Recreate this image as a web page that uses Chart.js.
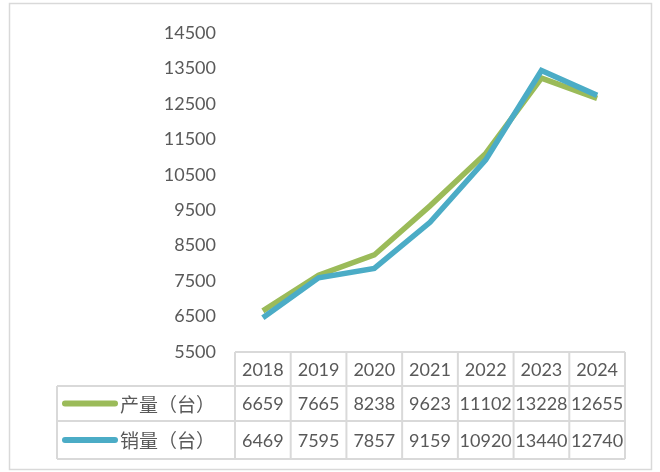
<!DOCTYPE html>
<html>
<head>
<meta charset="utf-8">
<script src="https://cdn.jsdelivr.net/npm/chart.js@4.4.1/dist/chart.umd.min.js"></script>
<style>
    html, body { margin: 0; padding: 0; background: #fff; }
    #wrap { width: 660px; height: 472px; position: relative; }
</style>
</head>
<body>
<div id="wrap"><canvas id="lineChart" width="660" height="472"></canvas></div>
<script>
// 数据
const years = ['2018', '2019', '2020', '2021', '2022', '2023', '2024'];
const seriesNames = ['产量（台）', '销量（台）'];
const production = [6659, 7665, 8238, 9623, 11102, 13228, 12655];
const sales = [6469, 7595, 7857, 9159, 10920, 13440, 12740];
const yMin = 5500;
const yMax = 14500;
const yStep = 1000;

const GREEN = '#9BBB59';
const BLUE = '#4BACC6';
const GRID = '#D9D9D9';
const TEXT = '#595959';
const NUM_FONT = '18px Lato';
const CJK_FONT = '19px "Noto Sans CJK SC"';

/**
 * 画表格（数据表）和外框
 */
const dataTablePlugin = {
    id: 'dataTable',
    afterDraw(chart) {
        const ctx = chart.ctx;
        const x = chart.scales.x;
        const half = (x.getPixelForValue(1) - x.getPixelForValue(0)) / 2;
        const left = x.getPixelForValue(0) - half;
        const right = x.getPixelForValue(years.length - 1) + half;
        const legendLeft = 57;
        const rows = [352, 386, 421, 459];

        ctx.save();
        ctx.strokeStyle = GRID;
        ctx.lineWidth = 2;
        ctx.beginPath();
        // 横线
        ctx.moveTo(left, rows[0]); ctx.lineTo(right, rows[0]);
        for (let r = 1; r < rows.length; r++) {
            ctx.moveTo(legendLeft, rows[r]); ctx.lineTo(right, rows[r]);
        }
        // 竖线
        for (let i = 0; i <= years.length; i++) {
            const px = left + i * half * 2;
            ctx.moveTo(px, rows[0]); ctx.lineTo(px, rows[3]);
        }
        ctx.moveTo(legendLeft, rows[1]); ctx.lineTo(legendLeft, rows[3]);
        ctx.stroke();

        // 外框
        ctx.lineWidth = 1.5;
        ctx.strokeRect(9.5, 3.5, 642, 466);

        // 文字
        ctx.fillStyle = TEXT;
        ctx.textAlign = 'center';
        ctx.textBaseline = 'middle';
        ctx.font = NUM_FONT;
        const values = [production, sales];
        years.forEach((year, i) => {
            const cx = x.getPixelForValue(i);
            ctx.fillText(year, cx, (rows[0] + rows[1]) / 2 + 1);
            values.forEach((arr, s) => {
                ctx.fillText(String(arr[i]), cx, (rows[s + 1] + rows[s + 2]) / 2 + 1);
            });
        });

        // 图例
        const colors = [GREEN, BLUE];
        seriesNames.forEach((name, s) => {
            const cy = (rows[s + 1] + rows[s + 2]) / 2;
            ctx.strokeStyle = colors[s];
            ctx.lineWidth = 6;
            ctx.lineCap = 'round';
            ctx.beginPath();
            ctx.moveTo(65, cy);
            ctx.lineTo(115, cy);
            ctx.stroke();
            ctx.fillStyle = TEXT;
            ctx.font = CJK_FONT;
            ctx.textAlign = 'left';
            ctx.fillText(name, 120, cy + 1);
        });
        ctx.restore();
    }
};

const tickValues = [];
for (let v = yMin; v <= yMax; v += yStep) tickValues.push(v);

new Chart(document.getElementById('lineChart'), {
    type: 'line',
    data: {
        labels: years,
        datasets: [{
            label: seriesNames[0],
            data: production,
            borderColor: GREEN,
            borderWidth: 5.5,
            pointRadius: 0,
            tension: 0,
            order: 1
        }, {
            label: seriesNames[1],
            data: sales,
            borderColor: BLUE,
            borderWidth: 5.5,
            pointRadius: 0,
            tension: 0,
            order: 0
        }]
    },
    options: {
        responsive: false,
        animation: false,
        layout: {
            padding: { left: 0, right: 35, top: 33, bottom: 120 }
        },
        scales: {
            x: {
                display: false,
                offset: true
            },
            y: {
                min: yMin,
                max: yMax,
                afterFit(scale) { scale.width = 235; },
                afterBuildTicks(scale) {
                    scale.ticks = tickValues.map(v => ({ value: v }));
                },
                grid: { display: false, drawTicks: false },
                border: { display: false },
                ticks: {
                    padding: 19,
                    color: TEXT,
                    font: { family: 'Lato', size: 18 },
                    callback: value => String(value)
                }
            }
        },
        plugins: {
            legend: { display: false },
            tooltip: { enabled: false }
        }
    },
    plugins: [dataTablePlugin]
});
</script>
</body>
</html>
